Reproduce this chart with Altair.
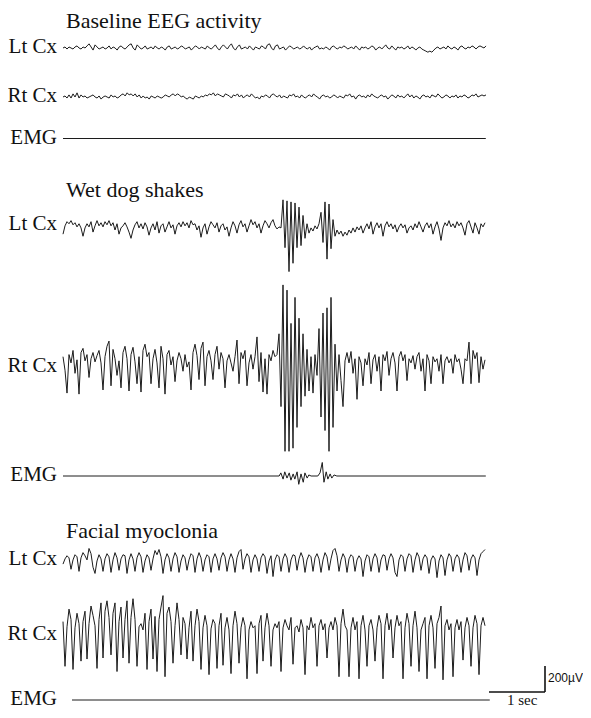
import altair as alt
import pandas as pd

# ---------------- data (amplitudes in µV) ----------------
BASE_LT = [
    0, 8, -8, 8, 0, -8, 8, 16, 0, -8,
    8, 0, 16, 32, 8, -16, 24, 8, -8, 0,
    8, -8, 0, 16, -8, 8, 0, -16, 8, 16,
    0, -8, 8, 24, 32, 0, -16, 24, 8, -8,
    0, 16, -8, 0, 8, -8, 16, 0, -8, 8,
    0, -16, 8, 16, -8, 0, 8, -8, 0, 16,
    8, -8, 0, 8, -16, 0, 16, 8, -8, 8,
    0, -8, 16, 0, -8, 8, 24, 0, -16, 8,
    24, 8, -8, 16, 32, 0, -16, 8, 24, -8,
    0, 8, -8, 16, 0, -16, 8, 0, -8, 16,
    8, -8, 24, 32, 0, -16, 16, 24, -8, 0,
    8, -16, 0, 16, 8, -8, 0, 8, -8, 0,
    16, 0, -8, 8, -16, 0, 8, 16, -8, 0,
    -8, 8, 0, -16, 8, 16, 0, -8, 8, 0,
    16, 8, -8, 0, 8, -8, 16, 0, -16, 8,
    0, 8, -8, 0, 16, 8, -16, 0, 8, -8,
    8, 24, 0, -8, 16, 0, -16, 8, 0, 8,
    -8, 0, 16, -8, 8, 0, -16, 0, 8, -8,
    -16, -24, -32, -24, -32, -16, 0, 8, -8, 0,
    8, -8, 16, 0, -8, 8, 0, -16, 8, 16,
    0, -8, 8, 0, 16, 8, -8, 8, 16, 8,
    0, 16,
]

BASE_RT = [
    0, 8, -8, 16, -8, 24, 0, 32, -8, 16,
    0, 8, -8, 0, 8, 16, 0, -8, 8, -16,
    0, 8, 0, -8, 16, 0, 8, -8, 0, 16,
    24, 8, 32, 16, 24, 8, 24, 0, 16, -8,
    8, -8, 0, -16, 8, 0, -8, 8, 0, -8,
    0, 16, 8, 0, 16, 24, 8, 24, 16, 0,
    8, -8, -16, 0, -8, -16, 8, 0, -8, 8,
    0, 16, 8, 24, 16, 32, 8, 24, 16, 8,
    0, 24, 16, 8, -8, 16, 8, 24, 0, 16,
    -8, 8, 16, 0, 24, 8, -8, 0, -16, 8,
    0, 16, 8, -8, 16, 24, 8, 0, 16, -8,
    8, 0, -8, 16, 8, 24, 0, 8, -8, 16,
    0, -8, 8, 16, 0, 24, 8, 0, -16, 8,
    16, 0, 8, -8, 0, 16, 8, -8, 8, 0,
    -8, 16, 8, 24, 0, 8, -16, 8, 16, 0,
    8, -8, 16, 0, 24, 8, 0, -8, 8, 16,
    0, 8, -16, 0, 16, 8, -8, 16, 0, 8,
    -8, 8, 24, 0, 16, -8, 8, 0, -16, 8,
    16, 0, 8, -8, 16, 8, 0, 24, 8, -8,
    0, 16, 8, -8, 8, 0, 16, -8, 8, 0,
    16, 8, -8, 0, 16, 8, 24, 0, 8, 16,
    8, 16,
]

WDS_LT = [
    -32, 32, 64, 48, 72, 40, 56, 24, 48, 16,
    -48, 16, 48, 24, 64, -16, 32, 72, 32, 56,
    24, 64, 40, 72, 32, 56, 0, 48, -32, 16,
    32, 56, 24, -16, -64, 0, 40, 64, 16, 48,
    8, 56, 24, -40, 16, 48, 0, 64, -24, 32,
    48, -16, 24, 64, 16, 40, -32, 32, 56, 24,
    64, 32, 56, 16, 72, 40, 48, 0, 32, -56,
    16, 48, -32, 24, 64, 40, 16, 56, -16, 32,
    48, 0, 24, -48, 16, 64, 32, -24, 40, 72,
    24, 48, -16, 32, 80, 40, 64, 16, 48, -24,
    32, 72, 48, 16, 56, 80, 32, 8, 24,
    16, 232, -136, 224, -320, 216, -256, 208, -136, 176,
    -120, 112, -64, 48, -24, 16, -8, 32, 8, 48,
    136, -96, 216, -224, 200, -144, 80, -48, 0,
    -32, -8, -48, -16, -40, 0, -24, 16, -16, 24,
    0, 32, -24, 16, 48, 8, 64, -32, 24, 56,
    16, 48, -48, 32, 64, 24, 48, 8, 40, -16,
    24, 48, 16, 40, -24, 16, 32, 0, 48, 16,
    64, 24, -16, 32, 56, 16, 48, -32, 24, 64,
    8, -80, 16, 56, 32, 72, 24, 48, 16, 64,
    32, 56, 16, -40, 48, 72, 24, -24, 56, 16,
    -32, 48, 24, 56,
]

WDS_RT = [
    64, -40, -216, 80, 16, 112, -64, 40, -224, 96,
    128, 32, 80, -96, 48, 96, 24, 72, 112, 16,
    -192, 64, 144, 184, -160, 120, 48, -80, 32, -176,
    96, 144, 48, -200, 80, 136, 24, -144, 64, -208,
    112, 160, 64, 96, -144, 48, 120, 16, -176, 144,
    48, -224, 80, 112, 0, 64, -128, 32, 96, 48,
    -48, 80, -16, 24, -192, 96, 160, 72, -112, 128,
    176, -160, 64, 112, 32, -112, 80, 144, -32, 96,
    48, -176, 32, 80, 16, -48, 64, 192, -144, 96,
    48, 112, -160, 16, 80, -32, 64, 216, -128, 96,
    -208, 48, -224, 80, 32, 112, 64,
    80, 240, -320, 616, -664, 576, -664, 320, -640, 520,
    -480, 360, -320, 240, -240, 120, -200, 64, -216, 80,
    -80, 280, -400, 400, -504, 440, -664, 520, -480, 160,
    -200, 80, -120,
    -320, 32, 96, 16, 104, -64, 48, -264, 64, 16,
    -160, 48, 0, 96, -144, 40, 80, -48, 64, -200,
    80, 32, 104, -80, 48, 96, 16, -200, 64, 104,
    32, 80, -120, 48, 16, 72, -32, 64, 96, -48,
    48, -200, 80, 32, -144, 64, 24, 48, -48, 80,
    -144, 32, 64, 16, 48, -64, 80, 24, 48, -32,
    -144, 48, 32, 176, -144, 112, 48, 96, -136, 64,
    -32, 40,
]

FM_LT = [
    -16, 24, 48, 32, -56, 16, 56, 40,
    -72, 32, 72, 48, 16, 104, 64, -40,
    -88, 8, 56, 24, -72, 24, 64, 40,
    -80, 16, 72, 32, -64, 24, 56, 48,
    -88, 16, 64, 24, -72, 32, 72, 40,
    -80, 8, 56, 32, -64, 24, 88, 56,
    96, 40, -88, 16, 64, 32, -72, 24,
    72, 40, -80, 8, 56, 32, -64, 16,
    64, 48, -80, 24, 72, 32, -72, 16,
    56, 40, -80, 24, 64, 24, -64, 32,
    72, 40, -72, 16, 64, 24, -80, 32,
    80, 96, -56, 24, 64, 40, -80, 16,
    56, 24, -72, 32, 64, 40, -88, 8,
    48, -112, 16, 56, 40, -72, 24, 64,
    32, -80, 16, 56, 48, -64, 24, 72,
    32, -80, 16, 56, 40, -72, 32, 64,
    24, -80, 16, 72, 40, -64, 24, 88,
    104, 48, -72, 16, 64, 32, -80, 24,
    56, 40, -72, 16, 48, 24, -112, 8,
    56, 40, -72, 24, 64, 32, -80, 16,
    56, 48, -64, 24, 64, 32, -80, -112,
    16, 56, 40, -72, 24, 64, 48, -80,
    16, 72, 40, -64, 24, 56, 32, -88,
    16, 48, 24, -120, 8, 56, 32, -104,
    16, 64, 40, -72, 24, 56, 32, -80,
    16, 72, 48, -64, 24, 56, 32, -104,
    16, 64, 80, 96,
]

FM_RT = [
    80, -264, 40, 176, 96, -288, 32, 144, 64, -224,
    80, 160, -208, 64, 200, 128, 48, -280, 96, 224,
    -200, 160, 240, 112, -176, 144, 224, -304, 80, 192,
    -200, 96, 240, -240, 112, 256, 96, -264, 40, 64,
    16, 144, -288, 80, 176, -208, 120, -304, 96, 192,
    280, -344, 144, 192, 80, -240, 48, 224, 96, -176,
    112, 64, -208, 32, 160, -224, 48, 176, 80, -288,
    32, 128, 48, -328, 24, 96, 64, -280, 48, 144,
    -256, 32, 112, 16, -320, 48, 160, 64, -240, 32,
    112, 48, -360, 16, 80, 32, 48, -320, 64, 128,
    -224, 32, 144, 48, -264, 16, 64, 32, 80, -304,
    32, 96, 48, 16, 112, -248, 32, 48, 0, 96,
    32, -328, 48, 16, 112, 32, 64, -264, 48, 96,
    16, 64, -200, 32, 80, 16, 112, 48, -344, 64,
    176, 48, 16, -344, 32, 112, 16, 80, -360, 48,
    128, 16, -264, 48, 96, 16, -224, 32, 128, 64,
    -360, 48, 144, 16, 96, -200, 32, 128, 48, 80,
    -360, 32, 144, 64, -264, 48, 160, 32, -304, 16,
    64, 112, -360, 48, 128, 32, -280, 64, 112, 200,
    -368, 48, 96, 16, 64, -344, 32, 96, 16, 80,
    -216, 32, 112, 48, -264, 32, 128, 64, -328, 48,
    112, 48,
]

# EMG traces: time (s from trace start) and amplitude (µV)
EMG_BASE_T = [0.0, 7.55]
EMG_BASE_V = [0, 0]
EMG_WDS_T = [0.0, 3.86, 3.89, 3.93, 3.96, 4.0, 4.04, 4.07, 4.11, 4.14,
             4.18, 4.21, 4.25, 4.29, 4.32, 4.36, 4.39, 4.43, 4.55, 4.59,
             4.63, 4.66, 4.7, 4.73, 4.77, 4.8, 4.84, 4.89, 7.55]
EMG_WDS_V = [0, 0, 24, -24, 32, -16, 24, -32, 16, -24,
             32, -64, 16, -48, 24, -16, 8, 0, 0, 24,
             104, -48, 32, -24, 16, -16, 8, 0, 0]
EMG_FM_T = [0.0, 7.46]
EMG_FM_V = [0, 0]

SECTIONS = ["Baseline EEG activity", "Wet dog shakes", "Facial myoclonia"]
CHANNELS = ["Lt Cx", "Rt Cx", "EMG"]
SCALE_SEC = 1
SCALE_UV = 200
SCALE_TEXT = ["200µV", "1 sec"]

# ---------------- layout ----------------
W, H = 575, 702
M = 8
PX_PER_S = 56.0
UV_PER_PX = 200 / 26.0


def tx(px):
    return (px - M) / PX_PER_S


def ty(py):
    return -(py - M) * UV_PER_PX


X_SCALE = alt.Scale(domain=[0, W / PX_PER_S], nice=False, zero=False)
Y_SCALE = alt.Scale(domain=[-H * UV_PER_PX, 0], nice=False, zero=False)

uniform = [
    ("base_lt", BASE_LT, 48, 63, 486),
    ("base_rt", BASE_RT, 97, 63, 486),
    ("wds_lt", WDS_LT, 230, 63, 485),
    ("wds_rt", WDS_RT, 365, 63, 485),
    ("fm_lt", FM_LT, 562, 63, 485),
    ("fm_rt", FM_RT, 632, 63, 485),
]
timed = [
    ("base_emg", EMG_BASE_T, EMG_BASE_V, 138.5, 63),
    ("wds_emg", EMG_WDS_T, EMG_WDS_V, 476, 63),
    ("fm_emg", EMG_FM_T, EMG_FM_V, 700, 72),
]

rows = []
for name, vals, y0, x0, x1 in uniform:
    t0, t1 = tx(x0), tx(x1)
    n = len(vals)
    for i, v in enumerate(vals):
        rows.append({"trace": name, "t": t0 + (t1 - t0) * i / (n - 1), "v": ty(y0) + v})
for name, ts, vs, y0, x0 in timed:
    for t, v in zip(ts, vs):
        rows.append({"trace": name, "t": tx(x0) + t, "v": ty(y0) + v})
traces = pd.DataFrame(rows)

lines = alt.Chart(traces).mark_line(color="#1c1c1c", strokeWidth=1, strokeJoin="round").encode(
    x=alt.X("t:Q", scale=X_SCALE, axis=None),
    y=alt.Y("v:Q", scale=Y_SCALE, axis=None),
    detail="trace:N",
)

title_df = pd.DataFrame({
    "label": SECTIONS,
    "x": [tx(66)] * 3,
    "y": [ty(28), ty(197), ty(538)],
})
titles = alt.Chart(title_df).mark_text(
    align="left", baseline="alphabetic", font="Liberation Serif", fontSize=22, color="#111"
).encode(
    x=alt.X("x:Q", scale=X_SCALE, axis=None),
    y=alt.Y("y:Q", scale=Y_SCALE, axis=None),
    text="label:N",
)

chan_y = [53, 102, 144, 230, 372, 481, 565, 640, 705]
chan_df = pd.DataFrame({
    "label": CHANNELS * 3,
    "x": [tx(57)] * 9,
    "y": [ty(v) for v in chan_y],
})
chans = alt.Chart(chan_df).mark_text(
    align="right", baseline="alphabetic", font="Liberation Serif", fontSize=21, color="#111"
).encode(
    x=alt.X("x:Q", scale=X_SCALE, axis=None),
    y=alt.Y("y:Q", scale=Y_SCALE, axis=None),
    text="label:N",
)

corner_x, corner_y = tx(545), ty(692)
bar_df = pd.DataFrame({
    "x": [corner_x - SCALE_SEC, corner_x],
    "x2": [corner_x, corner_x],
    "y": [corner_y, corner_y],
    "y2": [corner_y, corner_y + SCALE_UV],
})
bars = alt.Chart(bar_df).mark_rule(color="#111", strokeWidth=1.6).encode(
    x=alt.X("x:Q", scale=X_SCALE, axis=None),
    x2="x2:Q",
    y=alt.Y("y:Q", scale=Y_SCALE, axis=None),
    y2="y2:Q",
)

uv_df = pd.DataFrame({"label": [SCALE_TEXT[0]], "x": [tx(548)], "y": [ty(682)]})
uv_text = alt.Chart(uv_df).mark_text(
    align="left", baseline="alphabetic", font="Liberation Sans", fontSize=12, color="#111"
).encode(
    x=alt.X("x:Q", scale=X_SCALE, axis=None),
    y=alt.Y("y:Q", scale=Y_SCALE, axis=None),
    text="label:N",
)
sec_df = pd.DataFrame({"label": [SCALE_TEXT[1]], "x": [tx(507)], "y": [ty(705)]})
sec_text = alt.Chart(sec_df).mark_text(
    align="left", baseline="alphabetic", font="Liberation Serif", fontSize=15, color="#111"
).encode(
    x=alt.X("x:Q", scale=X_SCALE, axis=None),
    y=alt.Y("y:Q", scale=Y_SCALE, axis=None),
    text="label:N",
)

chart = alt.layer(lines, titles, chans, bars, uv_text, sec_text).properties(
    width=W, height=H, padding=0,
    autosize=alt.AutoSizeParams(type="none"),
).configure_view(stroke=None)

chart.save("out.html", embed_options={"renderer": "svg", "actions": False})
